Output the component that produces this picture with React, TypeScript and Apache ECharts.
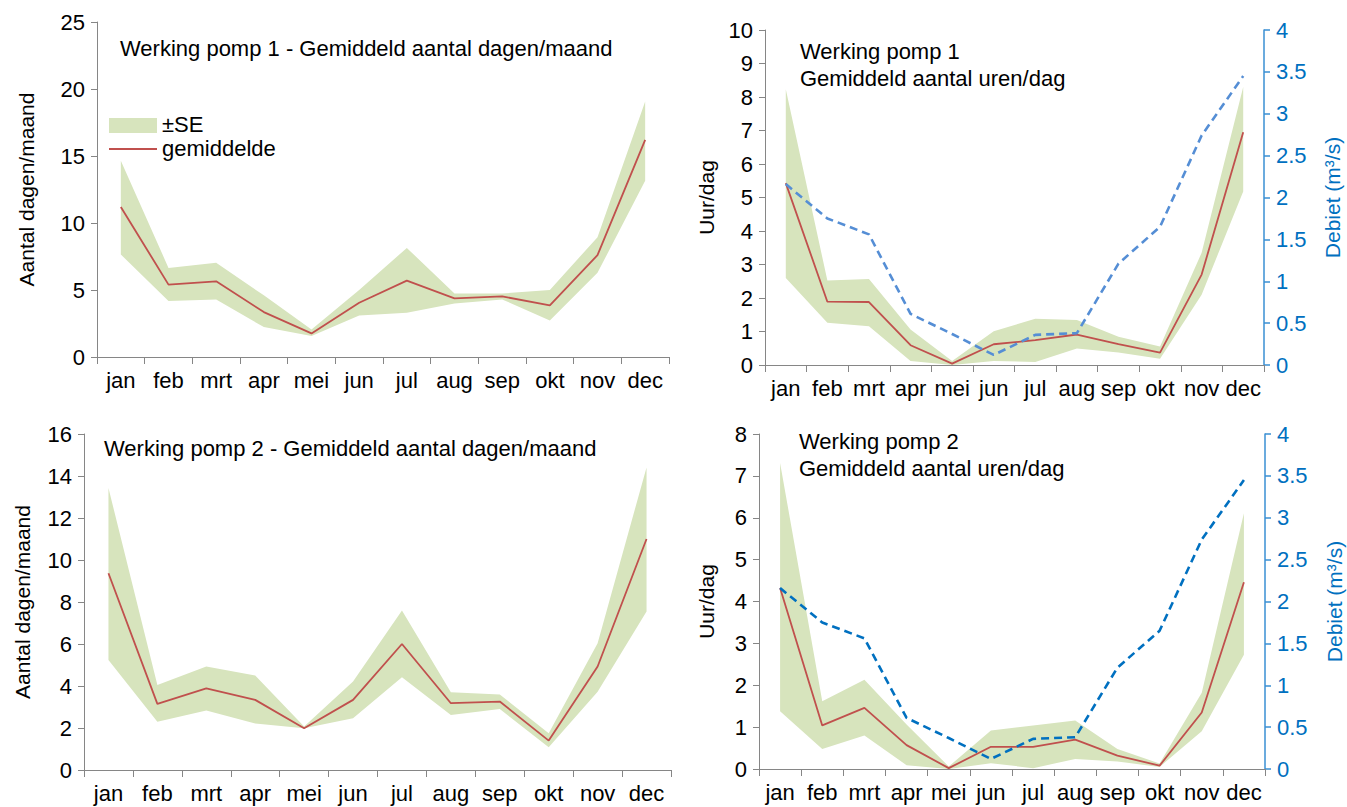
import React, { useEffect, useRef } from "react";
import * as echarts from "echarts";

const months = ["jan", "feb", "mrt", "apr", "mei", "jun", "jul", "aug", "sep", "okt", "nov", "dec"];

// Pomp 1 - dagen/maand
const p1DaysMean = [11.2, 5.4, 5.65, 3.35, 1.76, 4.05, 5.7, 4.37, 4.52, 3.85, 7.6, 16.2];
const p1DaysUpper = [14.65, 6.65, 7.03, 4.6, 2.06, 5.0, 8.14, 4.74, 4.74, 5.0, 8.94, 19.07];
const p1DaysLower = [7.65, 4.17, 4.3, 2.23, 1.56, 3.1, 3.3, 4.0, 4.3, 2.73, 6.28, 13.16];

// Pomp 1 - uren/dag
const p1HoursMean = [5.43, 1.89, 1.88, 0.59, 0.04, 0.62, 0.74, 0.91, 0.62, 0.37, 2.7, 6.95];
const p1HoursUpper = [8.23, 2.52, 2.57, 1.06, 0.12, 1.01, 1.38, 1.34, 0.84, 0.55, 3.35, 8.3];
const p1HoursLower = [2.6, 1.26, 1.16, 0.12, 0.0, 0.12, 0.09, 0.49, 0.37, 0.19, 2.1, 5.18];

// Pomp 2 - dagen/maand
const p2DaysMean = [9.37, 3.15, 3.89, 3.34, 1.99, 3.34, 6.0, 3.18, 3.26, 1.4, 4.93, 11.0];
const p2DaysUpper = [13.43, 4.05, 4.93, 4.5, 2.07, 4.21, 7.6, 3.7, 3.6, 1.75, 6.04, 14.41];
const p2DaysLower = [5.24, 2.3, 2.83, 2.22, 1.99, 2.46, 4.42, 2.62, 2.9, 1.08, 3.73, 7.55];

// Pomp 2 - uren/dag
const p2HoursMean = [4.32, 1.04, 1.46, 0.57, 0.02, 0.53, 0.53, 0.7, 0.32, 0.08, 1.35, 4.46];
const p2HoursUpper = [7.31, 1.62, 2.13, 1.06, 0.06, 0.92, 1.04, 1.16, 0.48, 0.13, 1.82, 6.11];
const p2HoursLower = [1.38, 0.48, 0.8, 0.09, 0.0, 0.14, 0.02, 0.24, 0.18, 0.05, 0.9, 2.73];

// Debiet (m³/s)
const debiet = [2.16, 1.75, 1.56, 0.61, 0.37, 0.12, 0.36, 0.38, 1.21, 1.65, 2.74, 3.45];

const FONT = "Liberation Sans, Arial, sans-serif";
const BAND = "#D7E4BD";
const RED = "#C0504D";
const AXIS_GRAY = "#868686";
const BLUE_AXIS = "#3A8FD3";
const BLUE_TEXT = "#0070C0";

function diff(up: number[], lo: number[]) {
  return up.map((u, i) => +(u - lo[i]).toFixed(3));
}

export default function App() {
  const ref = useRef<HTMLDivElement>(null);
  useEffect(() => {
    if (!ref.current) return;
    const chart = echarts.init(ref.current, null, { renderer: "svg" });

    const grids = [
      { left: 97, top: 22, width: 572, height: 335 },
      { left: 765, top: 30, width: 499, height: 335 },
      { left: 84, top: 434, width: 587, height: 336 },
      { left: 759, top: 434, width: 506, height: 335 },
    ];

    const xAxes = grids.map((_, i) => ({
      type: "category",
      gridIndex: i,
      data: months,
      boundaryGap: true,
      axisLine: { lineStyle: { color: AXIS_GRAY, width: 1 } },
      axisTick: { show: true, length: 7, lineStyle: { color: AXIS_GRAY } },
      axisLabel: { interval: 0, color: "#000", fontFamily: FONT, fontSize: 22, margin: 12 },
      splitLine: { show: false },
    }));

    const leftY = (gi: number, max: number, interval: number, name: string, gap: number) => ({
      type: "value",
      gridIndex: gi,
      min: 0,
      max,
      interval,
      name,
      nameLocation: "middle",
      nameRotate: 90,
      nameGap: gap,
      nameTextStyle: { color: "#000", fontFamily: FONT, fontSize: 21 },
      axisLine: { show: true, lineStyle: { color: AXIS_GRAY, width: 1 } },
      axisTick: { show: true, length: 6, lineStyle: { color: AXIS_GRAY } },
      axisLabel: { color: "#000", fontFamily: FONT, fontSize: 22, margin: 12 },
      splitLine: { show: false },
    });

    const rightY = (gi: number, gap: number) => ({
      type: "value",
      gridIndex: gi,
      position: "right",
      min: 0,
      max: 4,
      interval: 0.5,
      name: "Debiet (m³/s)",
      nameLocation: "middle",
      nameRotate: 90,
      nameGap: gap,
      nameTextStyle: { color: BLUE_TEXT, fontFamily: FONT, fontSize: 21 },
      axisLine: { show: true, lineStyle: { color: BLUE_AXIS, width: 1.5 } },
      axisTick: { show: true, length: 6, lineStyle: { color: BLUE_AXIS, width: 1.5 } },
      axisLabel: { color: BLUE_TEXT, fontFamily: FONT, fontSize: 22, margin: 12 },
      splitLine: { show: false },
    });

    const yAxes = [
      leftY(0, 25, 5, "Aantal dagen/maand", 60), // 0
      leftY(1, 10, 1, "Uur/dag", 48), // 1
      rightY(1, 58), // 2
      leftY(2, 16, 2, "Aantal dagen/maand", 51), // 3
      leftY(3, 8, 1, "Uur/dag", 42), // 4
      rightY(3, 59), // 5
    ];

    const band = (xi: number, yi: number, up: number[], lo: number[], key: string) => [
      {
        type: "line",
        xAxisIndex: xi,
        yAxisIndex: yi,
        data: lo,
        stack: key,
        symbol: "none",
        silent: true,
        lineStyle: { opacity: 0 },
        z: 1,
      },
      {
        type: "line",
        xAxisIndex: xi,
        yAxisIndex: yi,
        data: diff(up, lo),
        stack: key,
        symbol: "none",
        silent: true,
        lineStyle: { opacity: 0 },
        areaStyle: { color: BAND, opacity: 1 },
        z: 1,
      },
    ];

    const meanLine = (xi: number, yi: number, d: number[]) => ({
      type: "line",
      xAxisIndex: xi,
      yAxisIndex: yi,
      data: d,
      symbol: "none",
      lineStyle: { color: RED, width: 1.8 },
      z: 3,
    });

    const debietLine = (xi: number, yi: number, color: string) => ({
      type: "line",
      xAxisIndex: xi,
      yAxisIndex: yi,
      data: debiet,
      symbol: "none",
      lineStyle: { color, width: 2.6, type: [8, 5] },
      z: 4,
    });

    const titleStyle = { fill: "#000", font: `22px ${FONT}` };

    chart.setOption({
      animation: false,
      backgroundColor: "#fff",
      grid: grids,
      xAxis: xAxes,
      yAxis: yAxes,
      series: [
        ...band(0, 0, p1DaysUpper, p1DaysLower, "a"),
        meanLine(0, 0, p1DaysMean),
        ...band(1, 1, p1HoursUpper, p1HoursLower, "b"),
        meanLine(1, 1, p1HoursMean),
        debietLine(1, 2, "#558ED5"),
        ...band(2, 3, p2DaysUpper, p2DaysLower, "c"),
        meanLine(2, 3, p2DaysMean),
        ...band(3, 4, p2HoursUpper, p2HoursLower, "d"),
        meanLine(3, 4, p2HoursMean),
        debietLine(3, 5, "#0070C0"),
      ],
      graphic: [
        { type: "text", left: 120, top: 37, style: { text: "Werking pomp 1 - Gemiddeld aantal dagen/maand", ...titleStyle } },
        { type: "text", left: 800, top: 40, style: { text: "Werking pomp 1", ...titleStyle } },
        { type: "text", left: 800, top: 67, style: { text: "Gemiddeld aantal uren/dag", ...titleStyle } },
        { type: "text", left: 104, top: 437, style: { text: "Werking pomp 2 - Gemiddeld aantal dagen/maand", ...titleStyle } },
        { type: "text", left: 799, top: 430, style: { text: "Werking pomp 2", ...titleStyle } },
        { type: "text", left: 799, top: 457, style: { text: "Gemiddeld aantal uren/dag", ...titleStyle } },
        { type: "rect", shape: { x: 109, y: 118, width: 48, height: 15 }, style: { fill: BAND } },
        { type: "text", left: 162, top: 113, style: { text: "±SE", fill: "#000", font: `22px ${FONT}` } },
        { type: "line", shape: { x1: 109, y1: 149, x2: 157, y2: 149 }, style: { stroke: RED, lineWidth: 1.8 } },
        { type: "text", left: 162, top: 137, style: { text: "gemiddelde", fill: "#000", font: `22px ${FONT}` } },
      ],
    });
    return () => chart.dispose();
  }, []);

  return (
    <div
      ref={ref}
      style={{ position: "fixed", left: 0, top: 0, width: 1347, height: 807, background: "#fff" }}
    />
  );
}
